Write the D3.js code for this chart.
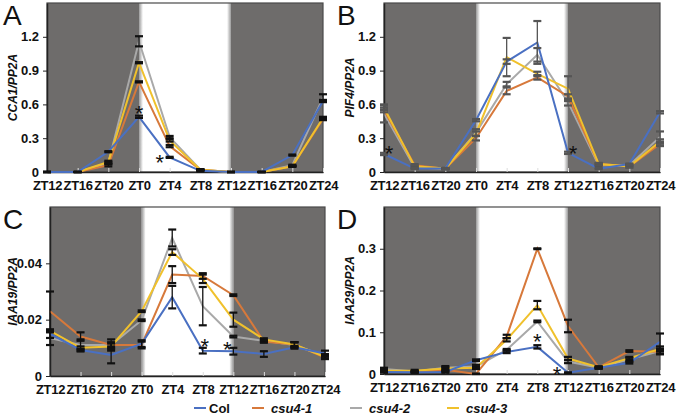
<!DOCTYPE html>
<html>
<head>
<meta charset="utf-8">
<script src="https://cdn.jsdelivr.net/npm/d3@7"></script>
<style>
  body { margin: 0; background: #fff; }
  svg { display: block; font-family: "Liberation Sans", Arial, sans-serif; }
</style>
</head>
<body>
<div id="chart"></div>
<script>
// time points and genotypes
const timeLabels = ['ZT12', 'ZT16', 'ZT20', 'ZT0', 'ZT4', 'ZT8', 'ZT12', 'ZT16', 'ZT20', 'ZT24'];
const genotypes = ['Col', 'csu4-1', 'csu4-2', 'csu4-3'];
const lineColors = ['#4a70c2', '#d7793b', '#a9a9a9', '#f0c12c'];

// values per genotype (Col, csu4-1, csu4-2, csu4-3)
const cca1Values = [
    [0, 0, 0.18, 0.49, 0.13, 0.01, 0, 0, 0.15, 0.63],
    [0, 0, 0.06, 0.80, 0.23, 0.02, 0, 0, 0.05, 0.47],
    [0, 0, 0.08, 1.16, 0.31, 0.02, 0, 0, 0.06, 0.66],
    [0, 0, 0.09, 0.97, 0.28, 0.02, 0, 0, 0.05, 0.48],
];
const cca1Errors = [
    [0, 0, 0.005, 0.01, 0.005, 0.005, 0, 0, 0.005, 0.01],
    [0, 0, 0.01, 0.005, 0.01, 0.005, 0, 0, 0.005, 0.01],
    [0, 0, 0.01, 0.045, 0.01, 0.005, 0, 0, 0.005, 0.03],
    [0, 0, 0.01, 0.005, 0.01, 0.005, 0, 0, 0.005, 0.01],
];

const pif4Values = [
    [0.16, 0.03, 0.03, 0.46, 0.98, 1.15, 0.17, 0.03, 0.07, 0.53],
    [0.55, 0.06, 0.03, 0.30, 0.72, 0.84, 0.67, 0.07, 0.05, 0.25],
    [0.52, 0.04, 0.03, 0.35, 0.78, 1.04, 0.62, 0.06, 0.06, 0.31],
    [0.57, 0.05, 0.03, 0.34, 1.02, 0.87, 0.74, 0.07, 0.05, 0.27],
];
const pif4Errors = [
    [0.01, 0.005, 0.005, 0.01, 0.02, 0.19, 0.01, 0.005, 0.005, 0.01],
    [0.02, 0.01, 0.005, 0.02, 0.03, 0.02, 0.02, 0.01, 0.01, 0.02],
    [0.08, 0.01, 0.005, 0.03, 0.02, 0.06, 0.03, 0.01, 0.01, 0.05],
    [0.02, 0.01, 0.005, 0.02, 0.17, 0.02, 0.11, 0.01, 0.01, 0.02],
];

const iaa19Values = [
    [0.015, 0.0092, 0.0075, 0.0115, 0.028, 0.009, 0.0088, 0.0078, 0.0102, 0.0080],
    [0.023, 0.0140, 0.0110, 0.0110, 0.036, 0.0355, 0.0287, 0.0122, 0.0112, 0.0065],
    [0.0135, 0.0110, 0.0110, 0.0198, 0.049, 0.0248, 0.0140, 0.0125, 0.0110, 0.0070],
    [0.016, 0.0100, 0.0105, 0.0230, 0.044, 0.0345, 0.0200, 0.0130, 0.0112, 0.0068],
];
const iaa19Errors = [
    [0.0015, 0.0005, 0.003, 0.0012, 0.004, 0.001, 0.0012, 0.001, 0.0005, 0.001],
    [0.007, 0.0015, 0.001, 0.0012, 0.003, 0.001, 0.0003, 0.0004, 0.0008, 0.0005],
    [0.0025, 0.002, 0.002, 0.0003, 0.003, 0.0068, 0.0003, 0.0004, 0.001, 0.0008],
    [0.0005, 0.0005, 0.001, 0.0003, 0.001, 0.0015, 0.0025, 0.0004, 0.0008, 0.0005],
];

const iaa29Values = [
    [0.005, 0.004, 0.005, 0.033, 0.053, 0.065, 0.003, 0.015, 0.027, 0.077],
    [0.008, 0.005, 0.010, 0.000, 0.090, 0.300, 0.115, 0.016, 0.055, 0.053],
    [0.012, 0.006, 0.015, 0.018, 0.058, 0.126, 0.030, 0.015, 0.035, 0.055],
    [0.008, 0.008, 0.013, 0.015, 0.082, 0.165, 0.037, 0.016, 0.038, 0.060],
];
const iaa29Errors = [
    [0.002, 0.001, 0.002, 0.002, 0.003, 0.004, 0.001, 0.002, 0.002, 0.02],
    [0.003, 0.002, 0.004, 0.001, 0.004, 0.001, 0.015, 0.002, 0.002, 0.006],
    [0.003, 0.002, 0.004, 0.004, 0.002, 0.002, 0.004, 0.002, 0.004, 0.006],
    [0.003, 0.002, 0.004, 0.003, 0.004, 0.010, 0.004, 0.002, 0.003, 0.006],
];

// layout of the four panels (colX = left edge of the column)
const panels = [
    { letter: 'A', title: 'CCA1/PP2A', values: cca1Values, errors: cca1Errors,
      yMax: 1.5, ticks: [0, 0.3, 0.6, 0.9, 1.2], fmt: d => d === 0 ? '0' : d3.format('.1f')(d),
      errColor: '#111', colX: 0, left: 47, top: 3, width: 276, height: 169,
      stars: [{ i: 3, v: 0.57, dx: 0 }, { i: 4, v: 0.13, dx: -10 }] },
    { letter: 'B', title: 'PIF4/PP2A', values: pif4Values, errors: pif4Errors,
      yMax: 1.5, ticks: [0, 0.3, 0.6, 0.9, 1.2], fmt: d => d === 0 ? '0' : d3.format('.1f')(d),
      errColor: '#555', colX: 337, left: 384, top: 3, width: 276, height: 169,
      stars: [{ i: 0, v: 0.21, dx: 5 }, { i: 6, v: 0.21, dx: 5 }] },
    { letter: 'C', title: 'IAA19/PP2A', values: iaa19Values, errors: iaa19Errors,
      yMax: 0.06, ticks: [0, 0.02, 0.04], fmt: d => d === 0 ? '0' : d3.format('.2f')(d),
      errColor: '#111', colX: 0, left: 50, top: 207, width: 275, height: 169,
      stars: [{ i: 5, v: 0.0125, dx: 2 }, { i: 6, v: 0.0113, dx: -6 }] },
    { letter: 'D', title: 'IAA29/PP2A', values: iaa29Values, errors: iaa29Errors,
      yMax: 0.4, ticks: [0, 0.1, 0.2, 0.3], fmt: d => d === 0 ? '0' : d3.format('.1f')(d),
      errColor: '#111', colX: 337, left: 384, top: 207, width: 276, height: 167,
      stars: [{ i: 5, v: 0.092, dx: 0 }, { i: 6, v: 0.013, dx: -11 }] },
];

const width = 677;
const height = 416;
const drawOrder = [2, 1, 3, 0];

const svg = d3.select('#chart')
    .append('svg')
    .attr('width', width)
    .attr('height', height);

// soft grey edge where the light period starts / ends
const defs = svg.append('defs');
const grad = defs.append('linearGradient').attr('id', 'edgeL');
grad.append('stop').attr('offset', '0%').attr('stop-color', '#9a9a9a');
grad.append('stop').attr('offset', '100%').attr('stop-color', '#fff');
const grad2 = defs.append('linearGradient').attr('id', 'edgeR');
grad2.append('stop').attr('offset', '0%').attr('stop-color', '#fff');
grad2.append('stop').attr('offset', '100%').attr('stop-color', '#9a9a9a');

panels.forEach(p => {
    const g = svg.append('g').attr('transform', `translate(${p.left},${p.top})`);
    const off = p.colX - p.left;

    const x = d3.scalePoint()
        .domain(d3.range(timeLabels.length))
        .range([0, p.width]);
    const y = d3.scaleLinear()
        .domain([0, p.yMax])
        .range([p.height, 0]);

    // dark / light background
    g.append('rect').attr('x', 0).attr('y', 0)
        .attr('width', x(3)).attr('height', p.height).attr('fill', '#6e6c6b');
    g.append('rect').attr('x', x(6)).attr('y', 0)
        .attr('width', p.width - x(6)).attr('height', p.height).attr('fill', '#6e6c6b');
    g.append('rect').attr('x', x(3)).attr('y', 0)
        .attr('width', 4).attr('height', p.height).attr('fill', 'url(#edgeL)');
    g.append('rect').attr('x', x(6) - 4).attr('y', 0)
        .attr('width', 4).attr('height', p.height).attr('fill', 'url(#edgeR)');

    // frame
    g.append('rect').attr('width', p.width).attr('height', p.height)
        .attr('fill', 'none').attr('stroke', '#4a4a4a').attr('stroke-width', 1.2);

    // x axis
    const xAxis = g.append('g')
        .attr('transform', `translate(0,${p.height})`)
        .call(d3.axisBottom(x).tickSizeInner(-4).tickSizeOuter(0).tickPadding(9)
            .tickFormat(i => timeLabels[i]));
    xAxis.select('.domain').attr('stroke', '#222').attr('stroke-width', 1.5);
    xAxis.selectAll('.tick line').attr('stroke', '#ddd');
    xAxis.selectAll('text').attr('font-size', 13).attr('font-weight', 'bold')
        .attr('fill', '#111').attr('letter-spacing', -0.3);

    // y axis
    const yAxis = g.append('g')
        .call(d3.axisLeft(y).tickValues(p.ticks).tickSize(4).tickSizeOuter(0).tickPadding(4)
            .tickFormat(p.fmt));
    yAxis.select('.domain').attr('stroke', '#222').attr('stroke-width', 1.5);
    yAxis.selectAll('.tick line').attr('stroke', '#222');
    yAxis.selectAll('text').attr('font-size', 13).attr('font-weight', 'bold').attr('fill', '#111');

    // axis title
    g.append('text')
        .attr('transform', `translate(${off + 17},${p.height / 2}) rotate(-90)`)
        .attr('text-anchor', 'middle')
        .attr('font-size', 12).attr('font-weight', 'bold').attr('font-style', 'italic')
        .attr('fill', '#111')
        .text(p.title);

    // panel letter
    g.append('text')
        .attr('x', off + (p.colX === 0 ? 3 : 0))
        .attr('y', 22)
        .attr('font-size', 28).attr('fill', '#111')
        .text(p.letter);

    const line = d3.line()
        .x((d, i) => x(i))
        .y(d => y(d));

    drawOrder.forEach(s => {
        g.append('path')
            .datum(p.values[s])
            .attr('fill', 'none')
            .attr('stroke', lineColors[s])
            .attr('stroke-width', 2)
            .attr('d', line);
    });

    // error bars
    drawOrder.forEach(s => {
        const eb = g.append('g').attr('stroke', p.errColor);
        p.values[s].forEach((v, i) => {
            const e = p.errors[s][i];
            const cx = x(i);
            const lo = y(Math.max(0, v - e));
            const hi = y(v + e);
            eb.append('line').attr('x1', cx).attr('x2', cx)
                .attr('y1', lo).attr('y2', hi).attr('stroke-width', 1.3);
            [lo, hi].forEach(yy => {
                eb.append('line').attr('x1', cx - 4).attr('x2', cx + 4)
                    .attr('y1', yy).attr('y2', yy).attr('stroke-width', 2.2);
            });
        });
    });

    // significance marks
    p.stars.forEach(st => {
        g.append('text')
            .attr('x', x(st.i) + st.dx)
            .attr('y', y(st.v) + 13)
            .attr('text-anchor', 'middle')
            .attr('font-size', 22).attr('fill', '#111')
            .text('*');
    });
});

// legend
const legendX = [194, 252, 350, 447];
const legend = svg.append('g').attr('transform', 'translate(0,408)');
genotypes.forEach((name, i) => {
    legend.append('line')
        .attr('x1', legendX[i]).attr('x2', legendX[i] + 12)
        .attr('y1', 0).attr('y2', 0)
        .attr('stroke', lineColors[i]).attr('stroke-width', 2);
    legend.append('text')
        .attr('x', legendX[i] + (i === 0 ? 15 : 19))
        .attr('y', 5)
        .attr('font-size', 13).attr('font-weight', 'bold')
        .attr('font-style', i === 0 ? 'normal' : 'italic')
        .attr('fill', '#111')
        .text(name);
});
</script>
</body>
</html>
